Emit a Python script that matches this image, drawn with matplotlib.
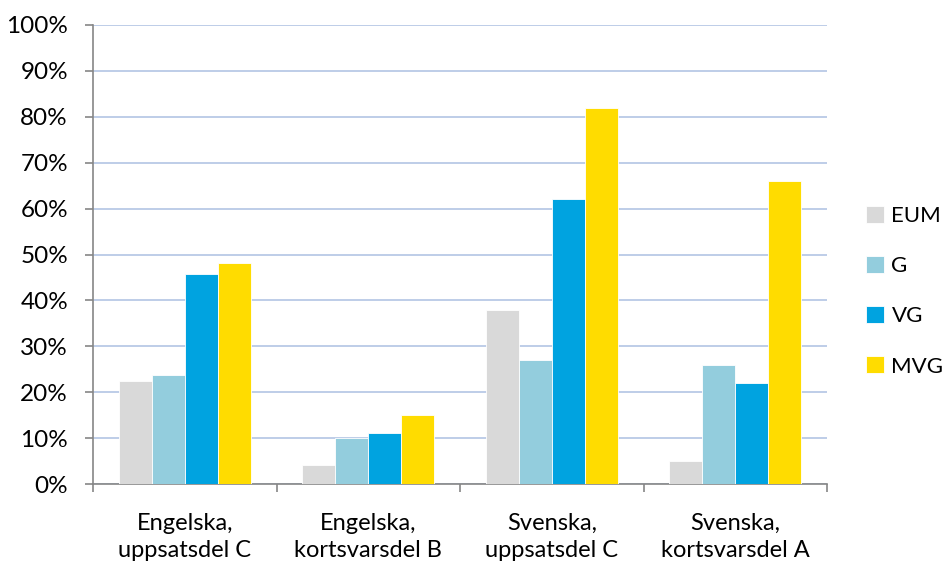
import numpy as np
import matplotlib
matplotlib.use("Agg")
import matplotlib.pyplot as plt
from matplotlib.ticker import FuncFormatter

categories = ["Engelska,\nuppsatsdel C", "Engelska,\nkortsvarsdel B",
              "Svenska,\nuppsatsdel C", "Svenska,\nkortsvarsdel A"]
series = ["EUM", "G", "VG", "MVG"]
eum = [22.4, 4.1, 38, 5]
g = [23.7, 10, 27, 26]
vg = [45.7, 11.1, 62, 22]
mvg = [48.1, 15, 82, 66]
colors = ["#d9d9d9", "#93cddd", "#00a3e0", "#ffdc00"]

plt.rcParams["font.family"] = ["Lato", "DejaVu Sans"]

fig = plt.figure(figsize=(9.47, 5.63), dpi=100)
ax = fig.add_axes([0.0982, 0.1403, 0.7751, 0.8153])

x = np.arange(len(categories))
w = 0.18
for i, (name, vals) in enumerate(zip(series, [eum, g, vg, mvg])):
    ax.bar(x + (i - 1.5) * w, vals, w, color=colors[i], label=name,
           edgecolor="white", linewidth=0.6, zorder=3)

ax.set_xlim(-0.5, len(categories) - 0.5)
ax.set_ylim(0, 100)
ax.set_yticks(range(0, 101, 10))
ax.yaxis.set_major_formatter(FuncFormatter(lambda v, p: f"{v:.0f}%"))
ax.set_xticks(x)
ax.set_xticklabels(categories, fontsize=17, linespacing=1.35)
ax.set_xticks(np.arange(-0.5, len(categories)), minor=True)
ax.tick_params(axis="x", which="major", length=0, pad=21)
ax.tick_params(axis="x", which="minor", length=6, color="#868686", width=1.2)
ax.tick_params(axis="y", length=6, color="#868686", width=1.2, labelsize=17.5, pad=12)
ax.grid(axis="y", color="#b9c9e6", linewidth=1.3, zorder=0)

for s in ["top", "right"]:
    ax.spines[s].set_visible(False)
for s in ["left", "bottom"]:
    ax.spines[s].set_color("#868686")
    ax.spines[s].set_linewidth(1.2)

ax.legend(loc="center left", bbox_to_anchor=(1.053, 0.42), frameon=False,
          borderaxespad=0, borderpad=0,
          fontsize=16, handlelength=0.8, handleheight=0.8, handletextpad=0.35,
          labelspacing=1.35)

fig.savefig("out.png", dpi=100)
